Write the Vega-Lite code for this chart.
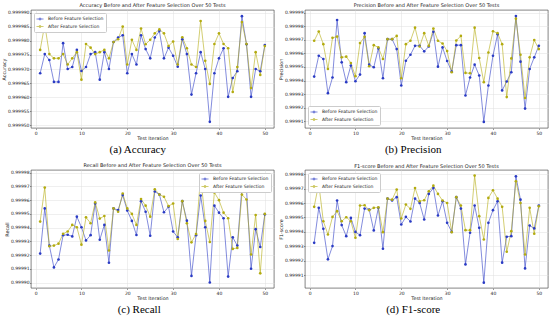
{
  "$schema": "https://vega.github.io/schema/vega-lite/v6.json",
  "padding": {"left": 1, "top": 2, "right": 2, "bottom": 2},
  "columns": 2,
  "spacing": {"row": 7, "column": 3},
  "resolve": {"scale": {"color": "independent", "x": "independent", "y": "independent"}, "legend": {"color": "independent"}},
  "config": {
    "font": "DejaVu Sans",
    "view": {"stroke": "#333", "strokeWidth": 0.6},
    "axis": {"labelFontSize": 4.5, "titleFontSize": 4.8, "titleFontWeight": "normal", "labelColor": "#222", "titleColor": "#222", "tickColor": "#333", "tickSize": 1.5, "tickWidth": 0.5, "labelPadding": 0.5, "titlePadding": 1, "domain": false, "gridColor": "#dedede", "gridWidth": 0.5},
    "legend": {"labelFontSize": 4.5, "labelColor": "#222", "strokeColor": "#cccccc", "fillColor": "white", "padding": 2, "rowPadding": 0.5, "offset": 3, "labelLimit": 200, "cornerRadius": 1, "symbolSize": 50, "symbolStrokeWidth": 0.9, "symbolType": "M-1,0H1M-0.3,0a0.3,0.3 0 1,0 0.6,0a0.3,0.3 0 1,0 -0.6,0Z", "title": null}
  },
  "datasets": {
    "acc": [
      {"i":1,"Before Feature Selection":0.9999685,"After Feature Selection":0.9999768},
      {"i":2,"Before Feature Selection":0.9999753,"After Feature Selection":0.9999858},
      {"i":3,"Before Feature Selection":0.9999732,"After Feature Selection":0.9999753},
      {"i":4,"Before Feature Selection":0.9999654,"After Feature Selection":0.9999738},
      {"i":5,"Before Feature Selection":0.9999654,"After Feature Selection":0.9999738},
      {"i":6,"Before Feature Selection":0.9999792,"After Feature Selection":0.9999753},
      {"i":7,"Before Feature Selection":0.9999700,"After Feature Selection":0.9999716},
      {"i":8,"Before Feature Selection":0.9999707,"After Feature Selection":0.9999738},
      {"i":9,"Before Feature Selection":0.9999768,"After Feature Selection":0.9999760},
      {"i":10,"Before Feature Selection":0.9999693,"After Feature Selection":0.9999662},
      {"i":11,"Before Feature Selection":0.9999707,"After Feature Selection":0.9999789},
      {"i":12,"Before Feature Selection":0.9999753,"After Feature Selection":0.9999776},
      {"i":13,"Before Feature Selection":0.9999760,"After Feature Selection":0.9999753},
      {"i":14,"Before Feature Selection":0.9999662,"After Feature Selection":0.9999760},
      {"i":15,"Before Feature Selection":0.9999760,"After Feature Selection":0.9999768},
      {"i":16,"Before Feature Selection":0.9999700,"After Feature Selection":0.9999738},
      {"i":17,"Before Feature Selection":0.9999796,"After Feature Selection":0.9999796},
      {"i":18,"Before Feature Selection":0.9999812,"After Feature Selection":0.9999806},
      {"i":19,"Before Feature Selection":0.9999820,"After Feature Selection":0.9999851},
      {"i":20,"Before Feature Selection":0.9999685,"After Feature Selection":0.9999716},
      {"i":21,"Before Feature Selection":0.9999753,"After Feature Selection":0.9999804},
      {"i":22,"Before Feature Selection":0.9999716,"After Feature Selection":0.9999768},
      {"i":23,"Before Feature Selection":0.9999820,"After Feature Selection":0.9999844},
      {"i":24,"Before Feature Selection":0.9999771,"After Feature Selection":0.9999788},
      {"i":25,"Before Feature Selection":0.9999738,"After Feature Selection":0.9999804},
      {"i":26,"Before Feature Selection":0.9999812,"After Feature Selection":0.9999827},
      {"i":27,"Before Feature Selection":0.9999835,"After Feature Selection":0.9999841},
      {"i":28,"Before Feature Selection":0.9999738,"After Feature Selection":0.9999827},
      {"i":29,"Before Feature Selection":0.9999776,"After Feature Selection":0.9999782},
      {"i":30,"Before Feature Selection":0.9999747,"After Feature Selection":0.9999798},
      {"i":31,"Before Feature Selection":0.9999708,"After Feature Selection":0.9999716},
      {"i":32,"Before Feature Selection":0.9999806,"After Feature Selection":0.9999813},
      {"i":33,"Before Feature Selection":0.9999753,"After Feature Selection":0.9999774},
      {"i":34,"Before Feature Selection":0.9999609,"After Feature Selection":0.9999716},
      {"i":35,"Before Feature Selection":0.9999685,"After Feature Selection":0.9999707},
      {"i":36,"Before Feature Selection":0.9999760,"After Feature Selection":0.9999871},
      {"i":37,"Before Feature Selection":0.9999700,"After Feature Selection":0.9999729},
      {"i":38,"Before Feature Selection":0.9999512,"After Feature Selection":0.9999647},
      {"i":39,"Before Feature Selection":0.9999685,"After Feature Selection":0.9999789},
      {"i":40,"Before Feature Selection":0.9999738,"After Feature Selection":0.9999827},
      {"i":41,"Before Feature Selection":0.9999774,"After Feature Selection":0.9999789},
      {"i":42,"Before Feature Selection":0.9999601,"After Feature Selection":0.9999774},
      {"i":43,"Before Feature Selection":0.9999668,"After Feature Selection":0.9999618},
      {"i":44,"Before Feature Selection":0.9999692,"After Feature Selection":0.9999707},
      {"i":45,"Before Feature Selection":0.9999888,"After Feature Selection":0.9999867},
      {"i":46,"Before Feature Selection":0.9999788,"After Feature Selection":0.9999789},
      {"i":47,"Before Feature Selection":0.9999601,"After Feature Selection":0.9999632},
      {"i":48,"Before Feature Selection":0.9999700,"After Feature Selection":0.9999760},
      {"i":49,"Before Feature Selection":0.9999692,"After Feature Selection":0.9999679},
      {"i":50,"Before Feature Selection":0.9999785,"After Feature Selection":0.9999782}
    ],
    "prec": [
      {"i":1,"Before Feature Selection":0.9999429,"After Feature Selection":0.9999693},
      {"i":2,"Before Feature Selection":0.9999583,"After Feature Selection":0.9999761},
      {"i":3,"Before Feature Selection":0.9999559,"After Feature Selection":0.9999668},
      {"i":4,"Before Feature Selection":0.9999307,"After Feature Selection":0.9999485},
      {"i":5,"Before Feature Selection":0.9999422,"After Feature Selection":0.9999715},
      {"i":6,"Before Feature Selection":0.9999846,"After Feature Selection":0.9999724},
      {"i":7,"Before Feature Selection":0.9999534,"After Feature Selection":0.9999571},
      {"i":8,"Before Feature Selection":0.9999388,"After Feature Selection":0.9999576},
      {"i":9,"Before Feature Selection":0.9999510,"After Feature Selection":0.9999529},
      {"i":10,"Before Feature Selection":0.9999395,"After Feature Selection":0.9999432},
      {"i":11,"Before Feature Selection":0.9999444,"After Feature Selection":0.9999676},
      {"i":12,"Before Feature Selection":0.9999749,"After Feature Selection":0.9999722},
      {"i":13,"Before Feature Selection":0.9999517,"After Feature Selection":0.9999505},
      {"i":14,"Before Feature Selection":0.9999498,"After Feature Selection":0.9999661},
      {"i":15,"Before Feature Selection":0.9999637,"After Feature Selection":0.9999644},
      {"i":16,"Before Feature Selection":0.9999417,"After Feature Selection":0.9999559},
      {"i":17,"Before Feature Selection":0.9999705,"After Feature Selection":0.9999705},
      {"i":18,"Before Feature Selection":0.9999705,"After Feature Selection":0.9999705},
      {"i":19,"Before Feature Selection":0.9999632,"After Feature Selection":0.9999729},
      {"i":20,"Before Feature Selection":0.9999363,"After Feature Selection":0.9999417},
      {"i":21,"Before Feature Selection":0.9999546,"After Feature Selection":0.9999668},
      {"i":22,"Before Feature Selection":0.9999590,"After Feature Selection":0.9999693},
      {"i":23,"Before Feature Selection":0.9999656,"After Feature Selection":0.9999790},
      {"i":24,"Before Feature Selection":0.9999656,"After Feature Selection":0.9999651},
      {"i":25,"Before Feature Selection":0.9999615,"After Feature Selection":0.9999749},
      {"i":26,"Before Feature Selection":0.9999651,"After Feature Selection":0.9999656},
      {"i":27,"Before Feature Selection":0.9999759,"After Feature Selection":0.9999783},
      {"i":28,"Before Feature Selection":0.9999502,"After Feature Selection":0.9999693},
      {"i":29,"Before Feature Selection":0.9999644,"After Feature Selection":0.9999673},
      {"i":30,"Before Feature Selection":0.9999544,"After Feature Selection":0.9999617},
      {"i":31,"Before Feature Selection":0.9999466,"After Feature Selection":0.9999461},
      {"i":32,"Before Feature Selection":0.9999661,"After Feature Selection":0.9999695},
      {"i":33,"Before Feature Selection":0.9999661,"After Feature Selection":0.9999729},
      {"i":34,"Before Feature Selection":0.9999290,"After Feature Selection":0.9999456},
      {"i":35,"Before Feature Selection":0.9999422,"After Feature Selection":0.9999454},
      {"i":36,"Before Feature Selection":0.9999517,"After Feature Selection":0.9999790},
      {"i":37,"Before Feature Selection":0.9999437,"After Feature Selection":0.9999566},
      {"i":38,"Before Feature Selection":0.9999095,"After Feature Selection":0.9999388},
      {"i":39,"Before Feature Selection":0.9999363,"After Feature Selection":0.9999607},
      {"i":40,"Before Feature Selection":0.9999583,"After Feature Selection":0.9999763},
      {"i":41,"Before Feature Selection":0.9999741,"After Feature Selection":0.9999749},
      {"i":42,"Before Feature Selection":0.9999327,"After Feature Selection":0.9999668},
      {"i":43,"Before Feature Selection":0.9999393,"After Feature Selection":0.9999278},
      {"i":44,"Before Feature Selection":0.9999461,"After Feature Selection":0.9999563},
      {"i":45,"Before Feature Selection":0.9999876,"After Feature Selection":0.9999856},
      {"i":46,"Before Feature Selection":0.9999539,"After Feature Selection":0.9999590},
      {"i":47,"Before Feature Selection":0.9999193,"After Feature Selection":0.9999271},
      {"i":48,"Before Feature Selection":0.9999485,"After Feature Selection":0.9999571},
      {"i":49,"Before Feature Selection":0.9999571,"After Feature Selection":0.9999698},
      {"i":50,"Before Feature Selection":0.9999656,"After Feature Selection":0.9999632}
    ],
    "rec": [
      {"i":1,"Before Feature Selection":0.9999211,"After Feature Selection":0.9999444},
      {"i":2,"Before Feature Selection":0.9999540,"After Feature Selection":0.9999692},
      {"i":3,"Before Feature Selection":0.9999269,"After Feature Selection":0.9999264},
      {"i":4,"Before Feature Selection":0.9999110,"After Feature Selection":0.9999269},
      {"i":5,"Before Feature Selection":0.9999168,"After Feature Selection":0.9999283},
      {"i":6,"Before Feature Selection":0.9999345,"After Feature Selection":0.9999355},
      {"i":7,"Before Feature Selection":0.9999348,"After Feature Selection":0.9999372},
      {"i":8,"Before Feature Selection":0.9999336,"After Feature Selection":0.9999420},
      {"i":9,"Before Feature Selection":0.9999480,"After Feature Selection":0.9999403},
      {"i":10,"Before Feature Selection":0.9999403,"After Feature Selection":0.9999276},
      {"i":11,"Before Feature Selection":0.9999307,"After Feature Selection":0.9999475},
      {"i":12,"Before Feature Selection":0.9999345,"After Feature Selection":0.9999432},
      {"i":13,"Before Feature Selection":0.9999576,"After Feature Selection":0.9999584},
      {"i":14,"Before Feature Selection":0.9999312,"After Feature Selection":0.9999466},
      {"i":15,"Before Feature Selection":0.9999420,"After Feature Selection":0.9999485},
      {"i":16,"Before Feature Selection":0.9999144,"After Feature Selection":0.9999233},
      {"i":17,"Before Feature Selection":0.9999540,"After Feature Selection":0.9999540},
      {"i":18,"Before Feature Selection":0.9999528,"After Feature Selection":0.9999516},
      {"i":19,"Before Feature Selection":0.9999637,"After Feature Selection":0.9999649},
      {"i":20,"Before Feature Selection":0.9999524,"After Feature Selection":0.9999540},
      {"i":21,"Before Feature Selection":0.9999449,"After Feature Selection":0.9999500},
      {"i":22,"Before Feature Selection":0.9999346,"After Feature Selection":0.9999420},
      {"i":23,"Before Feature Selection":0.9999593,"After Feature Selection":0.9999608},
      {"i":24,"Before Feature Selection":0.9999516,"After Feature Selection":0.9999560},
      {"i":25,"Before Feature Selection":0.9999341,"After Feature Selection":0.9999480},
      {"i":26,"Before Feature Selection":0.9999663,"After Feature Selection":0.9999680},
      {"i":27,"Before Feature Selection":0.9999641,"After Feature Selection":0.9999641},
      {"i":28,"Before Feature Selection":0.9999512,"After Feature Selection":0.9999625},
      {"i":29,"Before Feature Selection":0.9999552,"After Feature Selection":0.9999557},
      {"i":30,"Before Feature Selection":0.9999372,"After Feature Selection":0.9999576},
      {"i":31,"Before Feature Selection":0.9999329,"After Feature Selection":0.9999317},
      {"i":32,"Before Feature Selection":0.9999593,"After Feature Selection":0.9999593},
      {"i":33,"Before Feature Selection":0.9999451,"After Feature Selection":0.9999432},
      {"i":34,"Before Feature Selection":0.9999048,"After Feature Selection":0.9999293},
      {"i":35,"Before Feature Selection":0.9999345,"After Feature Selection":0.9999353},
      {"i":36,"Before Feature Selection":0.9999634,"After Feature Selection":0.9999774},
      {"i":37,"Before Feature Selection":0.9999403,"After Feature Selection":0.9999449},
      {"i":38,"Before Feature Selection":0.9999000,"After Feature Selection":0.9999295},
      {"i":39,"Before Feature Selection":0.9999560,"After Feature Selection":0.9999656},
      {"i":40,"Before Feature Selection":0.9999509,"After Feature Selection":0.9999600},
      {"i":41,"Before Feature Selection":0.9999468,"After Feature Selection":0.9999509},
      {"i":42,"Before Feature Selection":0.9999043,"After Feature Selection":0.9999468},
      {"i":43,"Before Feature Selection":0.9999329,"After Feature Selection":0.9999245},
      {"i":44,"Before Feature Selection":0.9999269,"After Feature Selection":0.9999252},
      {"i":45,"Before Feature Selection":0.9999685,"After Feature Selection":0.9999641},
      {"i":46,"Before Feature Selection":0.9999685,"After Feature Selection":0.9999605},
      {"i":47,"Before Feature Selection":0.9999100,"After Feature Selection":0.9999204},
      {"i":48,"Before Feature Selection":0.9999389,"After Feature Selection":0.9999492},
      {"i":49,"Before Feature Selection":0.9999259,"After Feature Selection":0.9999067},
      {"i":50,"Before Feature Selection":0.9999497,"After Feature Selection":0.9999500}
    ],
    "f1": [
      {"i":1,"Before Feature Selection":0.9999324,"After Feature Selection":0.9999574},
      {"i":2,"Before Feature Selection":0.9999567,"After Feature Selection":0.9999735},
      {"i":3,"Before Feature Selection":0.9999421,"After Feature Selection":0.9999474},
      {"i":4,"Before Feature Selection":0.9999209,"After Feature Selection":0.9999382},
      {"i":5,"Before Feature Selection":0.9999301,"After Feature Selection":0.9999504},
      {"i":6,"Before Feature Selection":0.9999618,"After Feature Selection":0.9999544},
      {"i":7,"Before Feature Selection":0.9999447,"After Feature Selection":0.9999474},
      {"i":8,"Before Feature Selection":0.9999370,"After Feature Selection":0.9999502},
      {"i":9,"Before Feature Selection":0.9999497,"After Feature Selection":0.9999474},
      {"i":10,"Before Feature Selection":0.9999400,"After Feature Selection":0.9999359},
      {"i":11,"Before Feature Selection":0.9999377,"After Feature Selection":0.9999583},
      {"i":12,"Before Feature Selection":0.9999562,"After Feature Selection":0.9999585},
      {"i":13,"Before Feature Selection":0.9999555,"After Feature Selection":0.9999551},
      {"i":14,"Before Feature Selection":0.9999410,"After Feature Selection":0.9999567},
      {"i":15,"Before Feature Selection":0.9999567,"After Feature Selection":0.9999570},
      {"i":16,"Before Feature Selection":0.9999283,"After Feature Selection":0.9999398},
      {"i":17,"Before Feature Selection":0.9999631,"After Feature Selection":0.9999631},
      {"i":18,"Before Feature Selection":0.9999618,"After Feature Selection":0.9999624},
      {"i":19,"Before Feature Selection":0.9999641,"After Feature Selection":0.9999694},
      {"i":20,"Before Feature Selection":0.9999451,"After Feature Selection":0.9999493},
      {"i":21,"Before Feature Selection":0.9999504,"After Feature Selection":0.9999590},
      {"i":22,"Before Feature Selection":0.9999472,"After Feature Selection":0.9999560},
      {"i":23,"Before Feature Selection":0.9999631,"After Feature Selection":0.9999705},
      {"i":24,"Before Feature Selection":0.9999601,"After Feature Selection":0.9999613},
      {"i":25,"Before Feature Selection":0.9999486,"After Feature Selection":0.9999620},
      {"i":26,"Before Feature Selection":0.9999664,"After Feature Selection":0.9999682},
      {"i":27,"Before Feature Selection":0.9999705,"After Feature Selection":0.9999721},
      {"i":28,"Before Feature Selection":0.9999514,"After Feature Selection":0.9999664},
      {"i":29,"Before Feature Selection":0.9999613,"After Feature Selection":0.9999618},
      {"i":30,"Before Feature Selection":0.9999463,"After Feature Selection":0.9999601},
      {"i":31,"Before Feature Selection":0.9999400,"After Feature Selection":0.9999398},
      {"i":32,"Before Feature Selection":0.9999641,"After Feature Selection":0.9999641},
      {"i":33,"Before Feature Selection":0.9999562,"After Feature Selection":0.9999583},
      {"i":34,"Before Feature Selection":0.9999174,"After Feature Selection":0.9999412},
      {"i":35,"Before Feature Selection":0.9999394,"After Feature Selection":0.9999412},
      {"i":36,"Before Feature Selection":0.9999583,"After Feature Selection":0.9999791},
      {"i":37,"Before Feature Selection":0.9999428,"After Feature Selection":0.9999509},
      {"i":38,"Before Feature Selection":0.9999047,"After Feature Selection":0.9999347},
      {"i":39,"Before Feature Selection":0.9999463,"After Feature Selection":0.9999636},
      {"i":40,"Before Feature Selection":0.9999551,"After Feature Selection":0.9999689},
      {"i":41,"Before Feature Selection":0.9999613,"After Feature Selection":0.9999631},
      {"i":42,"Before Feature Selection":0.9999186,"After Feature Selection":0.9999574},
      {"i":43,"Before Feature Selection":0.9999366,"After Feature Selection":0.9999262},
      {"i":44,"Before Feature Selection":0.9999370,"After Feature Selection":0.9999405},
      {"i":45,"Before Feature Selection":0.9999786,"After Feature Selection":0.9999752},
      {"i":46,"Before Feature Selection":0.9999624,"After Feature Selection":0.9999601},
      {"i":47,"Before Feature Selection":0.9999146,"After Feature Selection":0.9999243},
      {"i":48,"Before Feature Selection":0.9999444,"After Feature Selection":0.9999567},
      {"i":49,"Before Feature Selection":0.9999424,"After Feature Selection":0.9999387},
      {"i":50,"Before Feature Selection":0.9999583,"After Feature Selection":0.9999578}
    ]
  },
  "concat": [
    {
      "title": {"text": "(a) Accuracy", "orient": "bottom", "anchor": "middle", "font": "Liberation Serif", "fontSize": 11, "fontWeight": "normal", "offset": 3, "color": "#000"},
      "resolve": {"scale": {"color": "independent"}, "legend": {"color": "independent"}},
      "vconcat": [{
        "title": {"text": "Accuracy Before and After Feature Selection Over 50 Tests", "fontSize": 5, "fontWeight": "normal", "offset": 1.5, "color": "#222"},
        "width": 243, "height": 118,
        "data": {"name": "acc"},
        "transform": [{"fold": ["Before Feature Selection", "After Feature Selection"], "as": ["s", "v"]}],
        "encoding": {
          "x": {"field": "i", "type": "quantitative", "scale": {"domain": [-1, 52], "nice": false}, "axis": {"values": [0, 10, 20, 30, 40, 50], "title": "Test Iteration"}},
          "y": {"field": "v", "type": "quantitative", "scale": {"domain": [0.999949, 0.999991], "nice": false, "zero": false}, "axis": {"values": [0.99995, 0.999955, 0.99996, 0.999965, 0.99997, 0.999975, 0.99998, 0.999985, 0.99999], "format": ".6f", "title": "Accuracy"}},
          "color": {"field": "s", "type": "nominal", "scale": {"domain": ["Before Feature Selection", "After Feature Selection"], "range": ["#2a3bc4", "#b3ab10"]}, "legend": {"orient": "top-left"}}
        },
        "layer": [
          {"mark": {"type": "line", "strokeWidth": 0.9, "opacity": 0.65}},
          {"mark": {"type": "point", "filled": true, "size": 7, "opacity": 1}}
        ]
      }]
    },
    {
      "title": {"text": "(b) Precision", "orient": "bottom", "anchor": "middle", "font": "Liberation Serif", "fontSize": 11, "fontWeight": "normal", "offset": 3, "color": "#000"},
      "resolve": {"scale": {"color": "independent"}, "legend": {"color": "independent"}},
      "vconcat": [{
        "title": {"text": "Precision Before and After Feature Selection Over 50 Tests", "fontSize": 5, "fontWeight": "normal", "offset": 1.5, "color": "#222"},
        "width": 243, "height": 118,
        "data": {"name": "prec"},
        "transform": [{"fold": ["Before Feature Selection", "After Feature Selection"], "as": ["s", "v"]}],
        "encoding": {
          "x": {"field": "i", "type": "quantitative", "scale": {"domain": [-1, 52], "nice": false}, "axis": {"values": [0, 10, 20, 30, 40, 50], "title": "Test Iteration"}},
          "y": {"field": "v", "type": "quantitative", "scale": {"domain": [0.999905, 0.999992], "nice": false, "zero": false}, "axis": {"values": [0.99991, 0.99992, 0.99993, 0.99994, 0.99995, 0.99996, 0.99997, 0.99998, 0.99999], "format": ".5f", "title": "Precision"}},
          "color": {"field": "s", "type": "nominal", "scale": {"domain": ["Before Feature Selection", "After Feature Selection"], "range": ["#2a3bc4", "#b3ab10"]}, "legend": {"orient": "bottom-left"}}
        },
        "layer": [
          {"mark": {"type": "line", "strokeWidth": 0.9, "opacity": 0.65}},
          {"mark": {"type": "point", "filled": true, "size": 7, "opacity": 1}}
        ]
      }]
    },
    {
      "title": {"text": "(c) Recall", "orient": "bottom", "anchor": "middle", "font": "Liberation Serif", "fontSize": 11, "fontWeight": "normal", "offset": 3, "color": "#000"},
      "resolve": {"scale": {"color": "independent"}, "legend": {"color": "independent"}},
      "vconcat": [{
        "title": {"text": "Recall Before and After Feature Selection Over 50 Tests", "fontSize": 5, "fontWeight": "normal", "offset": 1.5, "color": "#222"},
        "width": 243, "height": 118,
        "data": {"name": "rec"},
        "transform": [{"fold": ["Before Feature Selection", "After Feature Selection"], "as": ["s", "v"]}],
        "encoding": {
          "x": {"field": "i", "type": "quantitative", "scale": {"domain": [-1, 52], "nice": false}, "axis": {"values": [0, 10, 20, 30, 40, 50], "title": "Test Iteration"}},
          "y": {"field": "v", "type": "quantitative", "scale": {"domain": [0.999896, 0.999982], "nice": false, "zero": false}, "axis": {"values": [0.9999, 0.99991, 0.99992, 0.99993, 0.99994, 0.99995, 0.99996, 0.99997, 0.99998], "format": ".5f", "title": "Recall"}},
          "color": {"field": "s", "type": "nominal", "scale": {"domain": ["Before Feature Selection", "After Feature Selection"], "range": ["#2a3bc4", "#b3ab10"]}, "legend": {"orient": "top-right"}}
        },
        "layer": [
          {"mark": {"type": "line", "strokeWidth": 0.9, "opacity": 0.65}},
          {"mark": {"type": "point", "filled": true, "size": 7, "opacity": 1}}
        ]
      }]
    },
    {
      "title": {"text": "(d) F1-score", "orient": "bottom", "anchor": "middle", "font": "Liberation Serif", "fontSize": 11, "fontWeight": "normal", "offset": 3, "color": "#000"},
      "resolve": {"scale": {"color": "independent"}, "legend": {"color": "independent"}},
      "vconcat": [{
        "title": {"text": "F1-score Before and After Feature Selection Over 50 Tests", "fontSize": 5, "fontWeight": "normal", "offset": 1.5, "color": "#222"},
        "width": 243, "height": 118,
        "data": {"name": "f1"},
        "transform": [{"fold": ["Before Feature Selection", "After Feature Selection"], "as": ["s", "v"]}],
        "encoding": {
          "x": {"field": "i", "type": "quantitative", "scale": {"domain": [-1, 52], "nice": false}, "axis": {"values": [0, 10, 20, 30, 40, 50], "title": "Test Iteration"}},
          "y": {"field": "v", "type": "quantitative", "scale": {"domain": [0.999901, 0.999983], "nice": false, "zero": false}, "axis": {"values": [0.99991, 0.99992, 0.99993, 0.99994, 0.99995, 0.99996, 0.99997, 0.99998], "format": ".5f", "title": "F1-score"}},
          "color": {"field": "s", "type": "nominal", "scale": {"domain": ["Before Feature Selection", "After Feature Selection"], "range": ["#2a3bc4", "#b3ab10"]}, "legend": {"orient": "top-left"}}
        },
        "layer": [
          {"mark": {"type": "line", "strokeWidth": 0.9, "opacity": 0.65}},
          {"mark": {"type": "point", "filled": true, "size": 7, "opacity": 1}}
        ]
      }]
    }
  ]
}
